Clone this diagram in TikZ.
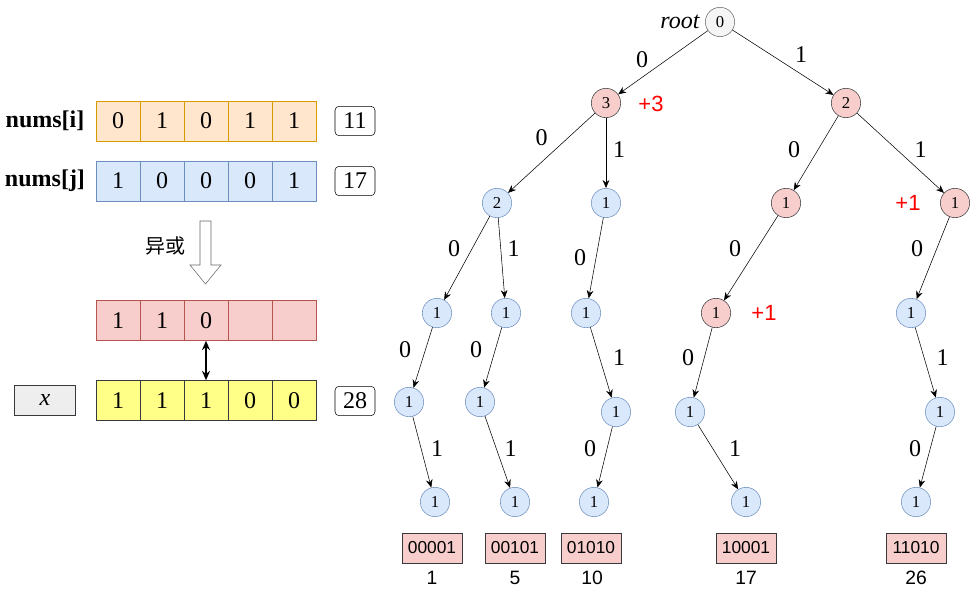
\documentclass[tikz,border=0pt]{standalone}
\usepackage{fontspec}
\setmainfont{Liberation Serif}
\newfontfamily\arialfont{Liberation Sans}
\newfontfamily\cjkfont{Noto Sans CJK SC}
\usetikzlibrary{arrows.meta,positioning}
\definecolor{orangefill}{HTML}{FFE6CC}
\definecolor{orangeline}{HTML}{D79B00}
\definecolor{bluefill}{HTML}{DAE8FC}
\definecolor{blueline}{HTML}{6C8EBF}
\definecolor{redfill}{HTML}{F8CECC}
\definecolor{redline}{HTML}{B85450}
\definecolor{yellowfill}{HTML}{FFFF88}
\definecolor{darkline}{HTML}{36393D}
\definecolor{grayfill}{HTML}{EEEEEE}
\definecolor{rootfill}{HTML}{F5F5F5}
\definecolor{rootline}{HTML}{666666}
\begin{document}
\begin{tikzpicture}[x=0.75pt, y=-0.75pt, >={Stealth[length=6pt,width=5pt]},
				    cell/.style={draw, minimum width=33pt, minimum height=30pt, inner sep=0pt,
				    			 font=\fontsize{18}{20}\selectfont},
				    numbox/.style={draw, rounded corners=3pt, minimum width=30pt, minimum height=22pt,
				    			   inner sep=0pt, font=\fontsize{18}{20}\selectfont},
				    tnode/.style={circle, draw=blueline, fill=bluefill, minimum size=22pt, inner sep=0pt,
				    			  font=\fontsize{12.5}{14}\selectfont},
				    rnode/.style={tnode, draw=darkline, fill=redfill},
				    lbl/.style={inner sep=0pt, font=\fontsize{18}{20}\selectfont},
				    plus/.style={text=red, font=\arialfont\fontsize{16.5}{18}\selectfont},
				    binbox/.style={draw=darkline, fill=redfill, minimum width=45pt, minimum height=22.5pt,
				    			   inner sep=0pt, font=\arialfont\fontsize{13}{15}\selectfont},
				    dec/.style={font=\arialfont\fontsize{14.5}{16}\selectfont}]
	\useasboundingbox (0,0) rectangle (977,598);

	% left: the two numbers and their xor
	\node[font=\bfseries\fontsize{18}{20}\selectfont] (li) at (45,121) {nums[i]};
	\node[cell, draw=orangeline, fill=orangefill] (i1) at (118,121) {0};
	\node[cell, draw=orangeline, fill=orangefill] (i2) at (162,121) {1};
	\node[cell, draw=orangeline, fill=orangefill] (i3) at (206,121) {0};
	\node[cell, draw=orangeline, fill=orangefill] (i4) at (250,121) {1};
	\node[cell, draw=orangeline, fill=orangefill] (i5) at (294,121) {1};
	\node[numbox] (ni) at (355,121) {11};

	\node[font=\bfseries\fontsize{18}{20}\selectfont] (lj) at (45,181) {nums[j]};
	\node[cell, draw=blueline, fill=bluefill] (j1) at (118,181) {1};
	\node[cell, draw=blueline, fill=bluefill] (j2) at (162,181) {0};
	\node[cell, draw=blueline, fill=bluefill] (j3) at (206,181) {0};
	\node[cell, draw=blueline, fill=bluefill] (j4) at (250,181) {0};
	\node[cell, draw=blueline, fill=bluefill] (j5) at (294,181) {1};
	\node[numbox] (nj) at (355,181) {17};

	\draw[draw=rootline, fill=white] (200,221) -- (211,221) -- (211,265) -- (221,265)
		-- (205.5,284) -- (190,265) -- (200,265) -- cycle;
	\node[font=\cjkfont\fontsize{15}{17}\selectfont] (xor) at (165,246) {异或};

	\node[cell, draw=redline, fill=redfill] (r1) at (118,320.5) {1};
	\node[cell, draw=redline, fill=redfill] (r2) at (162,320.5) {1};
	\node[cell, draw=redline, fill=redfill] (r3) at (206,320.5) {0};
	\node[cell, draw=redline, fill=redfill] (r4) at (250,320.5) {};
	\node[cell, draw=redline, fill=redfill] (r5) at (294,320.5) {};

	\node[draw=darkline, fill=grayfill, minimum width=46pt, minimum height=22.5pt, inner sep=0pt,
		  font=\itshape\fontsize{18}{20}\selectfont] (lx) at (45,400) {x};
	\node[cell, draw=darkline, fill=yellowfill] (x1) at (118,400.5) {1};
	\node[cell, draw=darkline, fill=yellowfill] (x2) at (162,400.5) {1};
	\node[cell, draw=darkline, fill=yellowfill] (x3) at (206,400.5) {1};
	\node[cell, draw=darkline, fill=yellowfill] (x4) at (250,400.5) {0};
	\node[cell, draw=darkline, fill=yellowfill] (x5) at (294,400.5) {0};
	\node[numbox] (nx) at (355,401) {28};

	\draw[{Stealth[length=7pt,width=6pt]}-{Stealth[length=7pt,width=6pt]}, line width=1.5pt]
		(r3.south) -- (x3.north);

	% right: the trie
	\node[tnode, draw=rootline, fill=rootfill] (t1) at (720,22) {0};
	\node[lbl, font=\itshape\fontsize{18}{20}\selectfont, left=4pt of t1] (troot) {root};
	\node[rnode] (t2) at (606,103) {3};
	\node[rnode] (t3) at (846,103) {2};
	\node[tnode] (t4) at (497,203) {2};
	\node[tnode] (t5) at (606,203) {1};
	\node[rnode] (t6) at (786,203) {1};
	\node[rnode] (t7) at (955,203) {1};
	\node[tnode] (t8) at (437,313) {1};
	\node[tnode] (t9) at (506,313) {1};
	\node[tnode] (t10) at (586,313) {1};
	\node[rnode] (t11) at (716,313) {1};
	\node[tnode] (t12) at (911,313) {1};
	\node[tnode] (t13) at (409,402) {1};
	\node[tnode] (t14) at (480,402) {1};
	\node[tnode] (t15) at (616,412) {1};
	\node[tnode] (t16) at (690,412) {1};
	\node[tnode] (t17) at (940,412) {1};
	\node[tnode] (t18) at (435,502) {1};
	\node[tnode] (t19) at (515,502) {1};
	\node[tnode] (t20) at (594,502) {1};
	\node[tnode] (t21) at (746,502) {1};
	\node[tnode] (t22) at (916,502) {1};

	\node[plus] (p1) at (651,104) {+3};
	\node[plus] (p2) at (908,203) {+1};
	\node[plus] (p3) at (764,313) {+1};

	\path[->] 	(t1)  edge node[lbl, shift={(-21,-3)}] {0}  (t2);
	\path[->] 	(t1)  edge node[lbl, shift={(18,-8)}] {1}   (t3);
	\path[->] 	(t2)  edge node[lbl, shift={(-10,-15)}] {0} (t4);
	\path[->] 	(t2)  edge node[lbl, shift={(13,-3)}] {1}   (t5);
	\path[->] 	(t3)  edge node[lbl, shift={(-22,-3)}] {0}  (t6);
	\path[->] 	(t3)  edge node[lbl, shift={(20,-3)}] {1}   (t7);
	\path[->] 	(t4)  edge node[lbl, shift={(-13,-9)}] {0}  (t8);
	\path[->] 	(t4)  edge node[lbl, shift={(12,-9)}] {1}   (t9);
	\path[->] 	(t5)  edge node[lbl, shift={(-16,0)}] {0}   (t10);
	\path[->] 	(t6)  edge node[lbl, shift={(-16,-9)}] {0}  (t11);
	\path[->] 	(t7)  edge node[lbl, shift={(-16,-9)}] {0}  (t12);
	\path[->] 	(t8)  edge node[lbl, shift={(-18,-8)}] {0}  (t13);
	\path[->] 	(t9)  edge node[lbl, shift={(-17,-8)}] {0}  (t14);
	\path[->] 	(t10) edge node[lbl, shift={(18,-5)}] {1}   (t15);
	\path[->] 	(t11) edge node[lbl, shift={(-15,-5)}] {0}  (t16);
	\path[->] 	(t12) edge node[lbl, shift={(17,-5)}] {1}   (t17);
	\path[->] 	(t13) edge node[lbl, shift={(15,-3)}] {1}   (t18);
	\path[->] 	(t14) edge node[lbl, shift={(13,-3)}] {1}   (t19);
	\path[->] 	(t15) edge node[lbl, shift={(-15,-8)}] {0}  (t20);
	\path[->] 	(t16) edge node[lbl, shift={(17,-8)}] {1}   (t21);
	\path[->] 	(t17) edge node[lbl, shift={(-13,-8)}] {0}  (t22);

	% leaves: the numbers stored
	\node[binbox] (b1) at (432,548) {00001};
	\node[binbox] (b2) at (515,548) {00101};
	\node[binbox] (b3) at (591,548) {01010};
	\node[binbox] (b4) at (746,548) {10001};
	\node[binbox] (b5) at (916,548) {11010};
	\node[dec] (d1) at (432,578) {1};
	\node[dec] (d2) at (515,578) {5};
	\node[dec] (d3) at (592,578) {10};
	\node[dec] (d4) at (746,578) {17};
	\node[dec] (d5) at (916,578) {26};

\end{tikzpicture}
\end{document}
